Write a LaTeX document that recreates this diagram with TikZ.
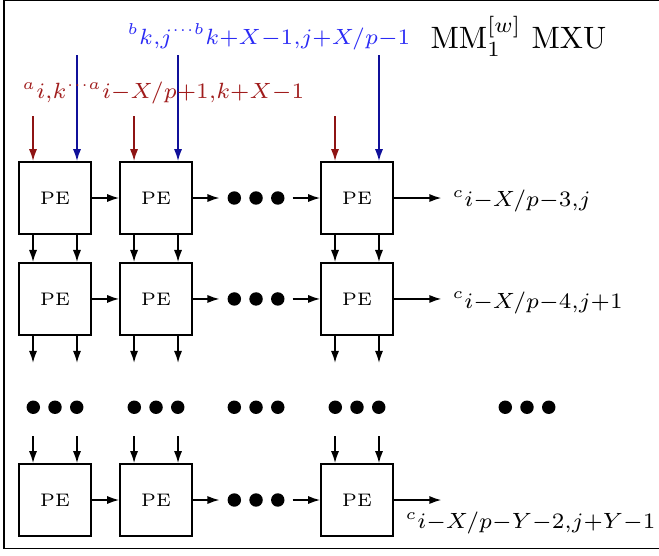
\RequirePackage{fix-cm}
\documentclass[tikz,border=0pt]{standalone}
\usetikzlibrary{arrows.meta,calc,positioning}
\definecolor{FeedRed}{HTML}{8E1414}
\definecolor{FeedBlue}{HTML}{10109A}
\definecolor{TagRed}{HTML}{A01C1C}
\definecolor{TagBlue}{HTML}{2B2BF5}
\tikzset{
  cell/.style={draw, line width=0.6pt, minimum size=0.835cm, inner sep=0pt, font=\fontsize{6}{7}\selectfont},
  hole/.style={minimum size=0.835cm, inner sep=0pt},
  tag/.style={anchor=base west, inner sep=0pt, font=\fontsize{10.4}{12}\selectfont},
  flow/.style={-{Latex[length=1.4mm,width=0.95mm]}, line width=0.5pt},
  feeda/.style={flow, draw=FeedRed},
  feedb/.style={flow, draw=FeedBlue},
}

\begin{document}
\begin{tikzpicture}[x=1cm,y=1cm]
  \useasboundingbox (0,0) rectangle (7.644,6.438);
  \draw[line width=0.45pt] (0.046,0.075) rectangle (7.9,6.438);
  % PE rows
  \foreach \r/\y in {1/4.141,2/2.970,4/0.638} {
    \node[cell] (pe\r1) at (0.638,\y) {PE};
    \node[cell] (pe\r2) at (1.810,\y) {PE};
    \node[hole] (gap\r) at (2.970,\y) {};
    \node[cell] (pe\r3) at (4.141,\y) {PE};
    \draw[flow] (pe\r1) -- (pe\r2);
    \draw[flow] (pe\r2) -- (gap\r);
    \draw[flow] (gap\r) -- (pe\r3);
    \foreach \dx in {-0.252,0,0.252}
      \fill ($(gap\r)+(\dx,0)$) circle (0.078);
    \coordinate (end\r) at ($(pe\r3.east)+(0.55,0)$);
    \draw[flow] (pe\r3) -- (end\r);
  }
  % skipped rows
  \foreach \c/\x in {1/0.638,2/1.810,m/2.970,3/4.141,e/6.113} {
    \node[hole] (skip\c) at (\x,1.804) {};
    \foreach \dx in {-0.252,0,0.252}
      \fill ($(skip\c)+(\dx,-0.09)$) circle (0.078);
  }
  % links between rows
  \foreach \c in {1,2,3}
    \foreach \dx in {-0.255,0.255} {
      \draw[flow] ([xshift=\dx cm]pe1\c.south) -- ([xshift=\dx cm]pe2\c.north);
      \draw[flow] ([xshift=\dx cm]pe2\c.south) -- ([xshift=\dx cm]skip\c.north);
      \draw[flow] ([xshift=\dx cm]skip\c.south) -- ([xshift=\dx cm]pe4\c.north);
    }
  % inputs
  \foreach \c in {1,2,3} {
    \coordinate (ina\c) at ($(pe1\c.north)+(-0.255,0.52)$);
    \coordinate (inb\c) at ($(pe1\c.north)+(0.255,1.23)$);
    \draw[feeda] (ina\c) -- (ina\c |- pe1\c.north);
    \draw[feedb] (inb\c) -- (inb\c |- pe1\c.north);
  }
  % labels
  \node[tag, text=TagRed] (rowin) at (0.255,5.295) {$\scriptstyle {}^{a}i,k{}^{\cdots a}i-X/p+1,k+X-1$};
  \node[tag, text=TagBlue] (colin) at (1.473,5.924) {$\scriptstyle {}^{b}k,j{}^{\cdots b}k+X-1,j+X/p-1$};
  \node[tag, font=\fontsize{10.2}{12}\selectfont] (title) at (4.988,5.878) {MM$_1^{[w]}$ MXU};
  \node[tag] (out1) at (5.243,4.037) {$\scriptstyle {}^{c}i-X/p-3,j$};
  \node[tag] (out2) at (5.243,2.865) {$\scriptstyle {}^{c}i-X/p-4,j+1$};
  \node[tag] (out4) at (4.698,0.302) {$\scriptstyle {}^{c}i-X/p-Y-2,j+Y-1$};
\end{tikzpicture}
\end{document}
